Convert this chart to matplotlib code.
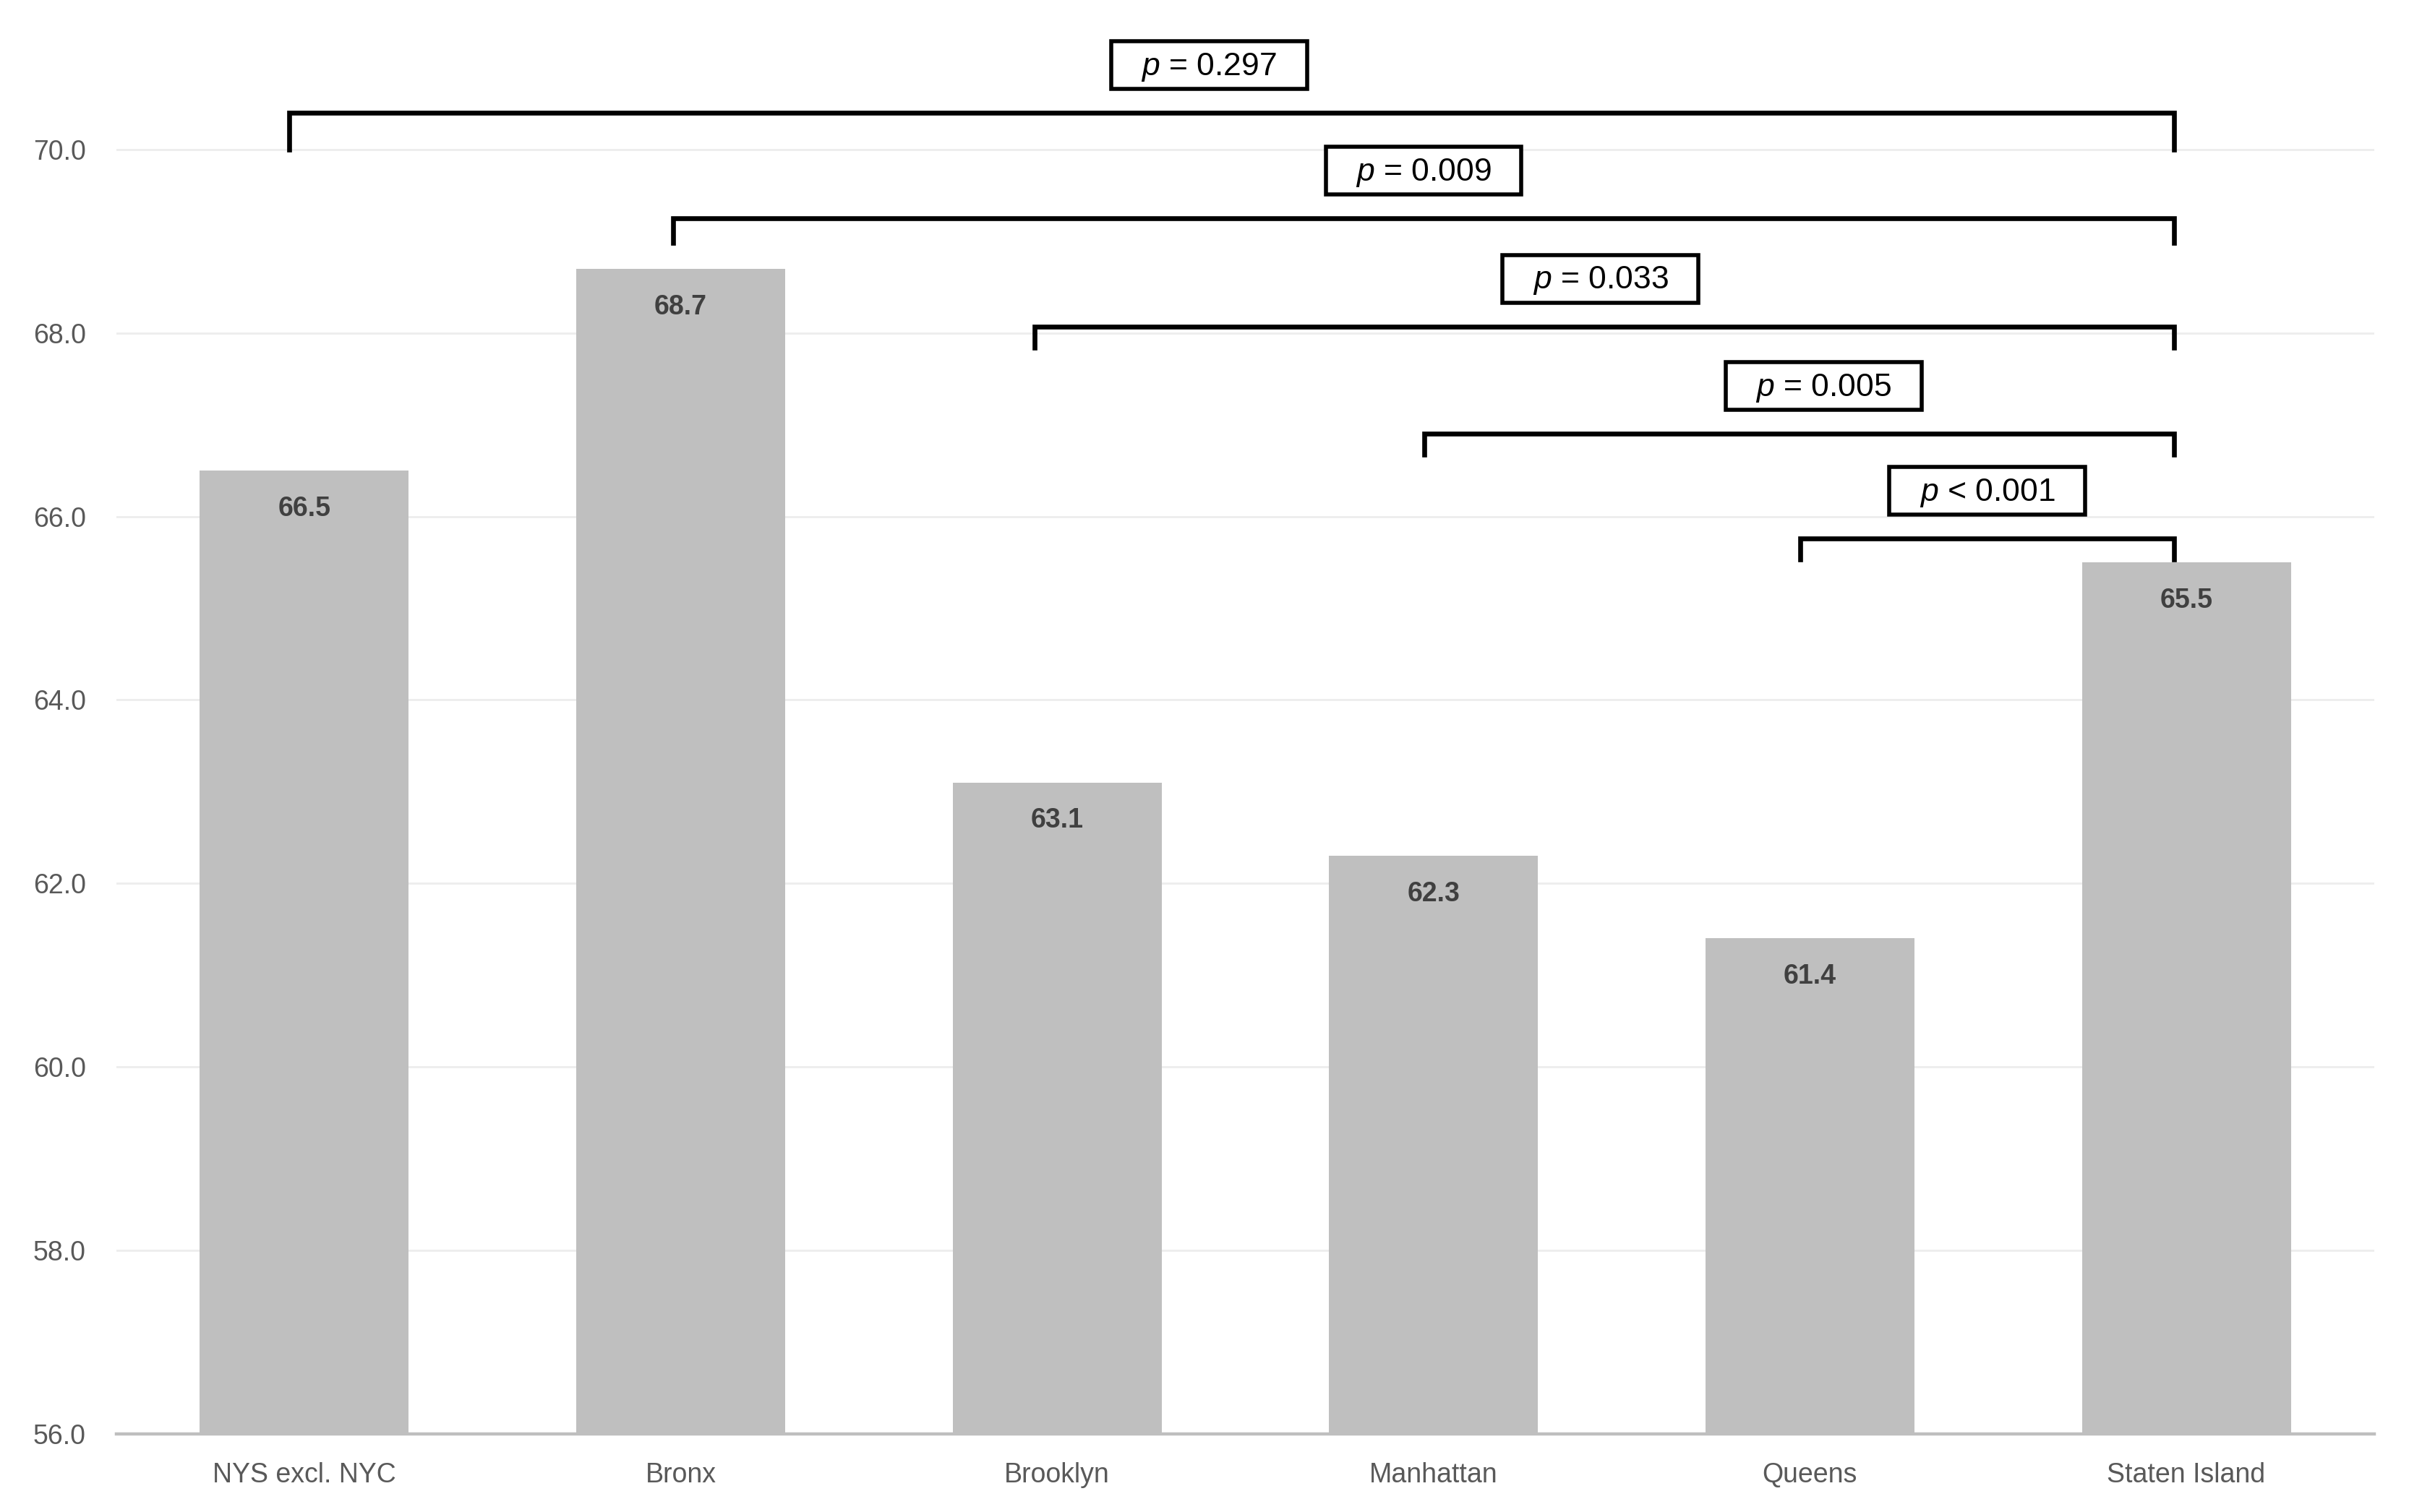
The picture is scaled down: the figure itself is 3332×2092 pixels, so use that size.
import matplotlib.pyplot as plt
from matplotlib.patches import Rectangle
from matplotlib import rc

FONT = ['Liberation Sans', 'DejaVu Sans']
rc('font', family=FONT)
rc('mathtext', fontset='custom')
rc('mathtext', it='Liberation Sans:italic')
rc('mathtext', rm='Liberation Sans')

# data
categories = ['NYS excl. NYC', 'Bronx', 'Brooklyn', 'Manhattan', 'Queens', 'Staten Island']
values = [66.5, 68.7, 63.1, 62.3, 61.4, 65.5]

# pairwise comparisons against Staten Island
pairs = [(0, 5), (1, 5), (2, 5), (3, 5), (4, 5)]
p_labels = ['$p$ = 0.297', '$p$ = 0.009', '$p$ = 0.033', '$p$ = 0.005', '$p$ < 0.001']

# layout of the brackets
bracket_y = [70.40, 69.25, 68.07, 66.90, 65.76]
bracket_drop = [0.40, 0.27, 0.23, 0.23, 0.23]
left_dx = [-0.04, -0.02, -0.06, -0.025, -0.025]
label_dx = [-0.06, 0.0, -0.01, 0.065, 0.0]

bar_color = '#BFBFBF'
text_color = '#595959'

fig = plt.figure(figsize=(16.66, 10.46), dpi=200)
ax = fig.add_axes([0.0482, 0.0518, 0.9375, 0.9482])

x = range(len(categories))
bars = ax.bar(x, values, width=0.555, color=bar_color, zorder=2)

for xi, v in zip(x, values):
    ax.annotate('%.1f' % v, (xi, v), xytext=(0, -19), textcoords='offset points',
                ha='center', va='center', fontsize=13.5, fontweight='bold',
                color='#404040')

ax.set_xlim(-0.5, 5.5)
ax.set_ylim(56, 71.63)
ax.set_yticks([56, 58, 60, 62, 64, 66, 68, 70])
ax.set_yticklabels(['%.1f' % t for t in [56, 58, 60, 62, 64, 66, 68, 70]])
ax.set_xticks(list(x))
ax.set_xticklabels(categories)
ax.tick_params(axis='both', length=0, labelsize=13.5, labelcolor=text_color)
ax.tick_params(axis='y', pad=15)
ax.tick_params(axis='x', pad=14)

ax.grid(axis='y', color='#EDEDED', linewidth=1.0, zorder=0)
ax.set_axisbelow(True)
for s in ['top', 'right', 'left']:
    ax.spines[s].set_visible(False)
ax.spines['bottom'].set_color(bar_color)
ax.spines['bottom'].set_linewidth(1.6)
ax.spines['bottom'].set_zorder(3)

right_off = -0.033
for (i, j), y, d, lab, lx, dx in zip(pairs, bracket_y, bracket_drop, p_labels, left_dx, label_dx):
    xl, xr = i + lx, j + right_off
    ax.plot([xl, xl, xr, xr], [y - d, y, y, y - d], color='black', lw=2.4,
            solid_joinstyle='miter', clip_on=False, zorder=4)
    xm = (xl + xr) / 2 + dx
    ym = y + 0.52
    w, h = 0.52, 0.52
    ax.add_patch(Rectangle((xm - w / 2, ym - h / 2), w, h, fc='white', ec='black',
                           lw=2.0, clip_on=False, zorder=5))
    ax.text(xm, ym - 0.02, lab, ha='center', va='center', fontsize=16, color='black', zorder=6)

fig.savefig('out.png', dpi=200, facecolor='white')
